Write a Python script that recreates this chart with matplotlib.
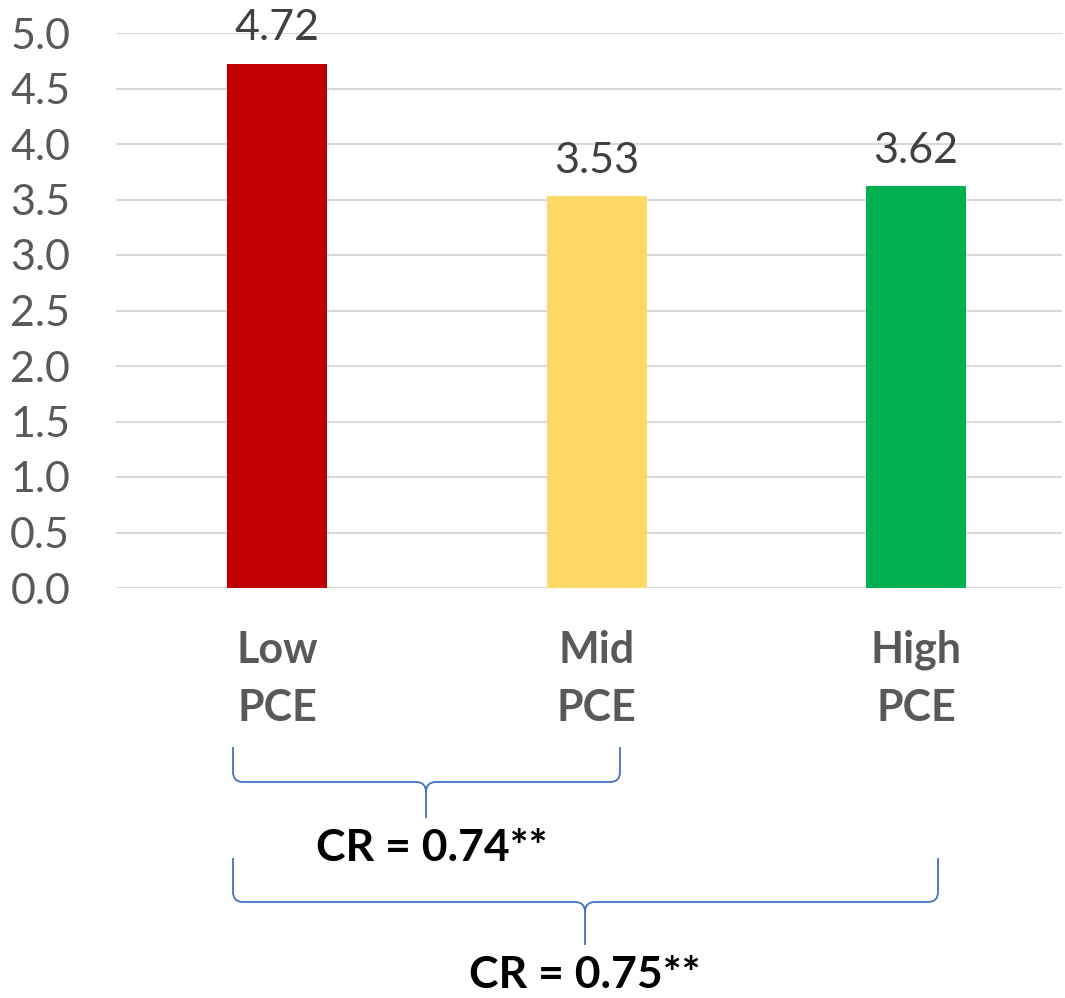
import matplotlib
matplotlib.use("Agg")
import matplotlib.pyplot as plt
from matplotlib.path import Path
from matplotlib.patches import PathPatch

plt.rcParams['font.family'] = ['Lato', 'DejaVu Sans']

categories = ['Low\nPCE', 'Mid\nPCE', 'High\nPCE']
values = [4.72, 3.53, 3.62]
colors = ['#C00000', '#FFD966', '#00B050']
yticks = [0.0, 0.5, 1.0, 1.5, 2.0, 2.5, 3.0, 3.5, 4.0, 4.5, 5.0]
cr_labels = ['CR = 0.74**', 'CR = 0.75**']

W, H = 1065, 998
fig = plt.figure(figsize=(W / 100, H / 100), dpi=100)
ax = fig.add_axes([116 / W, (H - 588) / H, (1062 - 116) / W, (588 - 33) / H])

x = list(range(len(categories)))
ax.bar(x, values, width=0.313, color=colors, zorder=3)
for xi, v in zip(x, values):
    ax.text(xi, v + 0.15, f'{v:.2f}', ha='center', va='bottom',
            fontsize=31, color='#404040', clip_on=False)

ax.set_ylim(0, 5)
ax.set_xlim(-0.504, 2.457)
ax.set_yticks(yticks)
ax.set_yticklabels([f'{t:.1f}' for t in yticks])
ax.yaxis.grid(True, color='#D9D9D9', linewidth=1.5, zorder=0)
ax.set_xticks(x)
ax.set_xticklabels(categories, fontsize=31, fontweight='bold', color='#595959',
                   linespacing=1.55)
ax.tick_params(axis='y', labelsize=31, labelcolor='#595959', length=0, pad=33)
ax.tick_params(axis='x', length=0, pad=30)
for s in ax.spines.values():
    s.set_visible(False)
ax.axhline(0, color='#D9D9D9', linewidth=1.5, zorder=2)

# overlay in pixel coordinates for the braces
ov = fig.add_axes([0, 0, 1, 1], facecolor='none')
ov.set_xlim(0, W)
ov.set_ylim(H, 0)
ov.axis('off')


def brace(x0, x1, xm, ytop, yh, ybot, r=10):
    verts = [(x0, ytop), (x0, yh - r), (x0, yh), (x0 + r, yh),
             (xm - r, yh), (xm, yh), (xm, yh + r), (xm, ybot),
             (xm, yh + r), (xm, yh), (xm + r, yh),
             (x1 - r, yh), (x1, yh), (x1, yh - r), (x1, ytop)]
    codes = [Path.MOVETO, Path.LINETO, Path.CURVE3, Path.CURVE3,
             Path.LINETO, Path.CURVE3, Path.CURVE3, Path.LINETO,
             Path.MOVETO, Path.CURVE3, Path.CURVE3,
             Path.LINETO, Path.CURVE3, Path.CURVE3, Path.LINETO]
    ov.add_patch(PathPatch(Path(verts, codes), fill=False,
                           edgecolor='#4472C4', linewidth=1.3))


brace(233, 620, 426, 747, 782, 818)
brace(233, 938, 585, 858, 902, 945)
ov.text(432, 848, cr_labels[0], ha='center', va='center', fontsize=32,
        fontweight='bold', color='black')
ov.text(585, 975, cr_labels[1], ha='center', va='center', fontsize=32,
        fontweight='bold', color='black')

fig.savefig('out.png', dpi=100)
